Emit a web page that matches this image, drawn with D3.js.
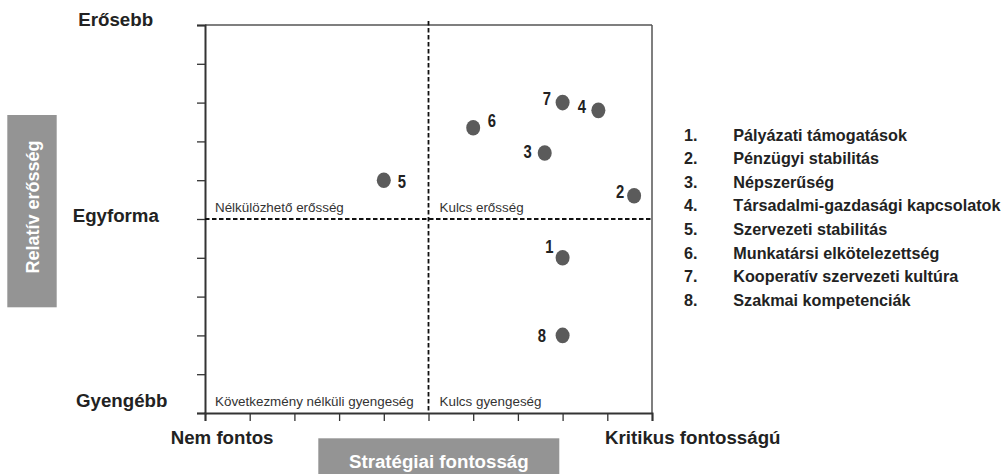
<!DOCTYPE html>
<html>
<head>
<meta charset="utf-8">
<script src="https://cdn.jsdelivr.net/npm/d3@7"></script>
<style>
  html, body { margin: 0; padding: 0; background: #fff; }
  svg { display: block; font-family: "Liberation Sans", Arial, sans-serif; }
</style>
</head>
<body>
<svg id="chart" width="1003" height="474"></svg>
<script>
// ---- data ----
const itemNumbers = [1, 2, 3, 4, 5, 6, 7, 8];
const itemNames = [
  "Pályázati támogatások",
  "Pénzügyi stabilitás",
  "Népszerűség",
  "Társadalmi-gazdasági kapcsolatok",
  "Szervezeti stabilitás",
  "Munkatársi elkötelezettség",
  "Kooperatív szervezeti kultúra",
  "Szakmai kompetenciák"
];
const strategicImportance = [8.0, 9.6, 7.6, 8.8, 4.0, 6.0, 8.0, 8.0];
const relativeStrength    = [4.0, 5.6, 6.7, 7.8, 6.0, 7.35, 8.0, 2.0];
const xTickValues = [0, 1, 2, 3, 4, 5, 6, 7, 8, 9, 10];
const yTickValues = [0, 1, 2, 3, 4, 5, 6, 7, 8, 9, 10];
const yEndLabels = ["Gyengébb", "Egyforma", "Erősebb"];
const xEndLabels = ["Nem fontos", "Kritikus fontosságú"];
const quadrantLabels = ["Nélkülözhető erősség", "Kulcs erősség", "Következmény nélküli gyengeség", "Kulcs gyengeség"];
const xAxisTitle = "Stratégiai fontosság";
const yAxisTitle = "Relatív erősség";

// ---- layout ----
const svg = d3.select("#chart");
const pLeft = 205, pRight = 652, pTop = 25, pBottom = 413;
const x = d3.scaleLinear().domain([0, 10]).range([pLeft, pRight]);
const y = d3.scaleLinear().domain([0, 10]).range([pBottom, pTop]);

// label offsets (pixels) relative to dot: [dx, dy, anchor]
const labelOffsets = {
  1: [-9, -4.6, "end"],
  2: [-10, 2.7, "end"],
  3: [-13, 5, "end"],
  4: [-12.3, 2.6, "end"],
  5: [14, 7.3, "start"],
  6: [14.6, -0.6, "start"],
  7: [-11.6, 2.7, "end"],
  8: [-16.6, 7, "end"]
};

// frame: top and right thin lines
svg.append("line").attr("x1", pLeft).attr("x2", pRight).attr("y1", pTop).attr("y2", pTop)
  .attr("stroke", "#555").attr("stroke-width", 1.5);
svg.append("line").attr("x1", pRight).attr("x2", pRight).attr("y1", pTop).attr("y2", pBottom)
  .attr("stroke", "#555").attr("stroke-width", 1.5);

// axes
const yAxis = d3.axisLeft(y).tickValues(yTickValues).tickSize(8).tickFormat("");
const gy = svg.append("g").attr("transform", `translate(${pLeft},0)`).call(yAxis);
gy.select(".domain").attr("stroke", "#333").attr("stroke-width", 2);
gy.selectAll(".tick line").attr("stroke", "#333").attr("stroke-width", 1.3);

const xAxis = d3.axisBottom(x).tickValues(xTickValues).tickSize(8).tickFormat("");
const gx = svg.append("g").attr("transform", `translate(0,${pBottom})`).call(xAxis);
gx.select(".domain").attr("stroke", "#333").attr("stroke-width", 2);
gx.selectAll(".tick line").attr("stroke", "#333").attr("stroke-width", 1.3);

// dashed midlines
svg.append("line").attr("x1", pLeft).attr("x2", pRight).attr("y1", y(5)).attr("y2", y(5))
  .attr("stroke", "#111").attr("stroke-width", 1.8).attr("stroke-dasharray", "4.5,2.5");
svg.append("line").attr("x1", x(5)).attr("x2", x(5)).attr("y1", pTop - 4).attr("y2", pBottom)
  .attr("stroke", "#111").attr("stroke-width", 1.8).attr("stroke-dasharray", "4.5,2.5");

// quadrant labels
const qStyle = sel => sel.attr("font-size", 13.4).attr("fill", "#333");
svg.append("text").attr("x", x(0) + 10).attr("y", y(5) - 7.5).text(quadrantLabels[0]).call(qStyle);
svg.append("text").attr("x", x(5) + 11).attr("y", y(5) - 7.5).text(quadrantLabels[1]).call(qStyle);
svg.append("text").attr("x", x(0) + 10).attr("y", y(0) - 7).text(quadrantLabels[2]).call(qStyle);
svg.append("text").attr("x", x(5) + 11).attr("y", y(0) - 7).text(quadrantLabels[3]).call(qStyle);

// points
const pts = itemNumbers.map((n, i) => ({ n, sx: strategicImportance[i], sy: relativeStrength[i] }));
svg.selectAll("ellipse.pt").data(pts).enter().append("ellipse")
  .attr("class", "pt")
  .attr("cx", d => x(d.sx)).attr("cy", d => y(d.sy))
  .attr("rx", 7).attr("ry", 7.8)
  .attr("fill", "#5b5b5b");

// point number labels (condensed bold)
svg.selectAll("text.pl").data(pts).enter().append("text")
  .attr("class", "pl")
  .attr("transform", d => `translate(${x(d.sx) + labelOffsets[d.n][0]},${y(d.sy) + labelOffsets[d.n][1]}) scale(0.78,1)`)
  .attr("text-anchor", d => labelOffsets[d.n][2])
  .attr("font-weight", "bold").attr("font-size", 19).attr("fill", "#222")
  .text(d => d.n);

// y end labels
const endStyle = sel => sel.attr("font-weight", "bold").attr("font-size", 18.7).attr("fill", "#222");
svg.append("text").attr("x", 76).attr("y", y(0) - 6).text(yEndLabels[0]).call(endStyle);
svg.append("text").attr("x", 72.7).attr("y", y(5) + 2.5).text(yEndLabels[1]).call(endStyle);
svg.append("text").attr("x", 78.3).attr("y", y(10) + 1).text(yEndLabels[2]).call(endStyle);

// x end labels
svg.append("text").attr("x", 170.7).attr("y", 443.5).text(xEndLabels[0]).call(endStyle);
svg.append("text").attr("x", 605).attr("y", 443.5).text(xEndLabels[1]).call(endStyle);

// axis title boxes
svg.append("rect").attr("x", 318.3).attr("y", 438.3).attr("width", 241).attr("height", 40).attr("fill", "#949494");
svg.append("text").attr("x", 438.8).attr("y", 467.5).attr("text-anchor", "middle")
  .attr("font-weight", "bold").attr("font-size", 18.7).attr("fill", "#fff").text(xAxisTitle);

svg.append("rect").attr("x", 7.3).attr("y", 115).attr("width", 49.4).attr("height", 192.3).attr("fill", "#949494");
svg.append("text").attr("transform", "translate(38.5,207) rotate(-90)").attr("text-anchor", "middle")
  .attr("font-weight", "bold").attr("font-size", 18).attr("fill", "#fff").text(yAxisTitle);

// legend
const legendTop = 140.7, legendStep = 23.57;
const lg = svg.selectAll("g.lg").data(itemNames).enter().append("g").attr("class", "lg")
  .attr("transform", (d, i) => `translate(0,${legendTop + i * legendStep})`);
lg.append("text").attr("x", 684).attr("font-weight", "bold").attr("font-size", 16.2).attr("fill", "#222")
  .text((d, i) => itemNumbers[i] + ".");
lg.append("text").attr("x", 733.3).attr("font-weight", "bold").attr("font-size", 16.2).attr("fill", "#222")
  .text(d => d);
</script>
</body>
</html>
